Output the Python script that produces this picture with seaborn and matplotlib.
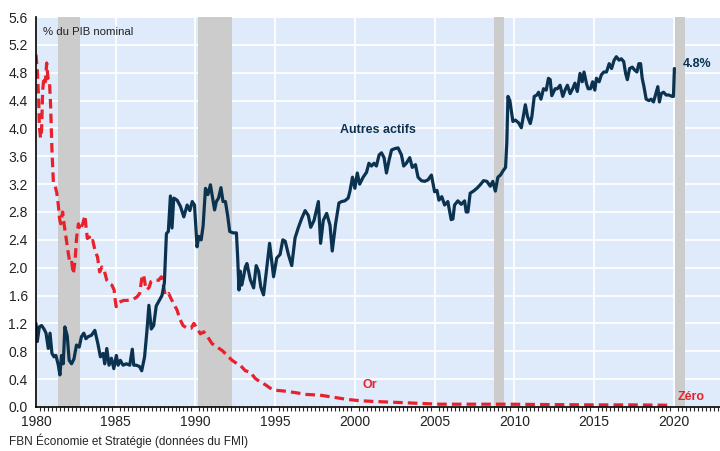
import numpy as np
import pandas as pd
import matplotlib
matplotlib.use('Agg')
import matplotlib.pyplot as plt
from matplotlib.ticker import MultipleLocator
import seaborn as sns

# Autres actifs (% du PIB nominal)
autres_years = [
    1980.00, 1980.08, 1980.21, 1980.35, 1980.50, 1980.63, 1980.77, 1980.88, 1981.00, 1981.13,
    1981.25, 1981.40, 1981.50, 1981.60, 1981.71, 1981.81, 1981.96, 1982.08, 1982.23, 1982.38,
    1982.54, 1982.71, 1982.85, 1983.00, 1983.13, 1983.27, 1983.48, 1983.69, 1983.88, 1984.04,
    1984.21, 1984.31, 1984.44, 1984.58, 1984.73, 1984.88, 1985.04, 1985.15, 1985.29, 1985.46,
    1985.67, 1985.88, 1986.04, 1986.13, 1986.29, 1986.50, 1986.63, 1986.81, 1986.96, 1987.08,
    1987.23, 1987.38, 1987.54, 1987.71, 1987.90, 1988.05, 1988.18, 1988.30, 1988.43, 1988.53,
    1988.64, 1988.85, 1989.06, 1989.27, 1989.48, 1989.65, 1989.80, 1989.94, 1990.10, 1990.21,
    1990.36, 1990.48, 1990.63, 1990.78, 1990.94, 1991.08, 1991.20, 1991.31, 1991.45, 1991.60,
    1991.73, 1991.88, 1992.02, 1992.15, 1992.36, 1992.57, 1992.65, 1992.73, 1992.81, 1992.90,
    1993.02, 1993.13, 1993.23, 1993.44, 1993.65, 1993.81, 1993.96, 1994.10, 1994.27, 1994.44,
    1994.65, 1994.90, 1995.10, 1995.31, 1995.48, 1995.63, 1995.83, 1996.04, 1996.25, 1996.46,
    1996.67, 1996.88, 1997.08, 1997.23, 1997.44, 1997.71, 1997.85, 1998.02, 1998.23, 1998.44,
    1998.58, 1998.79, 1999.00, 1999.17, 1999.37, 1999.58, 1999.69, 1999.85, 2000.00, 2000.15,
    2000.30, 2000.52, 2000.73, 2000.88, 2001.04, 2001.20, 2001.35, 2001.52, 2001.67, 2001.83,
    2001.98, 2002.15, 2002.30, 2002.50, 2002.71, 2002.92, 2003.06, 2003.23, 2003.44, 2003.60,
    2003.80, 2003.96, 2004.17, 2004.37, 2004.58, 2004.80, 2005.00, 2005.15, 2005.27, 2005.45,
    2005.63, 2005.83, 2006.04, 2006.15, 2006.25, 2006.46, 2006.67, 2006.88, 2006.98, 2007.09,
    2007.23, 2007.44, 2007.65, 2007.86, 2008.07, 2008.28, 2008.49, 2008.65, 2008.81, 2008.97,
    2009.13, 2009.32, 2009.45, 2009.53, 2009.60, 2009.72, 2009.80, 2009.91, 2010.06, 2010.27,
    2010.44, 2010.58, 2010.69, 2010.83, 2011.00, 2011.10, 2011.25, 2011.42, 2011.52, 2011.67,
    2011.83, 2012.00, 2012.14, 2012.25, 2012.35, 2012.56, 2012.70, 2012.87, 2013.04, 2013.18,
    2013.33, 2013.50, 2013.66, 2013.80, 2013.95, 2014.12, 2014.26, 2014.37, 2014.53, 2014.63,
    2014.78, 2014.91, 2015.05, 2015.15, 2015.32, 2015.46, 2015.61, 2015.78, 2015.95, 2016.10,
    2016.26, 2016.40, 2016.57, 2016.71, 2016.86, 2016.98, 2017.09, 2017.23, 2017.40, 2017.54,
    2017.69, 2017.81, 2017.92, 2018.02, 2018.13, 2018.27, 2018.44, 2018.58, 2018.73, 2018.85,
    2019.00, 2019.10, 2019.21, 2019.36, 2019.52, 2019.69, 2019.90, 2019.98, 2020.04,
]
autres_vals = [
    1.20, 0.94, 1.15, 1.17, 1.12, 1.06, 0.84, 1.06, 0.77, 0.72,
    0.74, 0.60, 0.46, 0.74, 0.62, 1.15, 1.02, 0.67, 0.62, 0.69,
    0.89, 0.86, 1.01, 1.06, 0.98, 1.01, 1.03, 1.10, 0.91, 0.72,
    0.77, 0.62, 0.84, 0.60, 0.70, 0.55, 0.74, 0.60, 0.67, 0.60,
    0.62, 0.60, 0.83, 0.60, 0.60, 0.58, 0.52, 0.72, 1.10, 1.46,
    1.12, 1.17, 1.45, 1.52, 1.60, 1.78, 2.49, 2.52, 3.03, 2.57,
    3.00, 2.97, 2.88, 2.73, 2.90, 2.82, 2.95, 2.90, 2.30, 2.45,
    2.40, 2.60, 3.14, 3.05, 3.19, 3.00, 2.83, 2.95, 3.00, 3.15,
    2.95, 2.95, 2.75, 2.52, 2.50, 2.50, 2.14, 1.68, 1.95, 1.75,
    1.87, 2.01, 2.06, 1.83, 1.71, 2.03, 1.95, 1.72, 1.61, 1.93,
    2.35, 1.87, 2.14, 2.19, 2.40, 2.38, 2.19, 2.03, 2.43, 2.58,
    2.71, 2.82, 2.75, 2.58, 2.68, 2.95, 2.35, 2.68, 2.78, 2.61,
    2.24, 2.63, 2.93, 2.95, 2.96, 3.00, 3.10, 3.30, 3.14, 3.36,
    3.20, 3.30, 3.37, 3.50, 3.46, 3.50, 3.46, 3.62, 3.65, 3.58,
    3.36, 3.55, 3.69, 3.71, 3.72, 3.62, 3.46, 3.50, 3.58, 3.44,
    3.48, 3.30, 3.25, 3.24, 3.26, 3.33, 3.09, 3.11, 2.97, 3.02,
    2.90, 2.95, 2.69, 2.70, 2.90, 2.96, 2.91, 2.96, 2.80, 2.80,
    3.07, 3.10, 3.14, 3.19, 3.25, 3.24, 3.17, 3.24, 3.10, 3.30,
    3.33, 3.40, 3.44, 3.80, 4.46, 4.40, 4.27, 4.10, 4.12, 4.08,
    4.01, 4.20, 4.34, 4.17, 4.07, 4.17, 4.46, 4.48, 4.52, 4.42,
    4.57, 4.55, 4.72, 4.70, 4.47, 4.57, 4.57, 4.62, 4.46, 4.55,
    4.62, 4.50, 4.57, 4.65, 4.53, 4.79, 4.67, 4.81, 4.64, 4.57,
    4.57, 4.67, 4.55, 4.72, 4.67, 4.77, 4.81, 4.81, 4.93, 4.86,
    4.98, 5.03, 4.98, 5.00, 4.96, 4.79, 4.70, 4.86, 4.88, 4.84,
    4.81, 4.93, 4.93, 4.72, 4.60, 4.42, 4.40, 4.42, 4.38, 4.48,
    4.60, 4.38, 4.50, 4.52, 4.48, 4.48, 4.46, 4.46, 4.86,
]

# Or (% du PIB nominal)
or_years = [
    1980.00, 1980.08, 1980.17, 1980.21, 1980.29, 1980.35, 1980.42, 1980.50, 1980.59, 1980.67,
    1980.75, 1980.84, 1980.92, 1981.00, 1981.09, 1981.19, 1981.30, 1981.40, 1981.48, 1981.55,
    1981.67, 1981.76, 1981.88, 1982.03, 1982.13, 1982.24, 1982.34, 1982.45, 1982.55, 1982.66,
    1982.76, 1982.93, 1983.07, 1983.14, 1983.22, 1983.35, 1983.43, 1983.56, 1983.70, 1983.86,
    1983.99, 1984.13, 1984.28, 1984.44, 1984.61, 1984.76, 1984.90, 1984.97, 1985.03, 1985.12,
    1985.28, 1985.49, 1985.70, 1985.91, 1986.12, 1986.33, 1986.50, 1986.65, 1986.75, 1986.86,
    1986.96, 1987.10, 1987.21, 1987.38, 1987.54, 1987.69, 1987.86, 1987.97, 1988.11, 1988.32,
    1988.46, 1988.64, 1988.85, 1989.01, 1989.22, 1989.48, 1989.73, 1989.90, 1990.10, 1990.31,
    1990.52, 1990.73, 1991.04, 1991.36, 1991.68, 1991.99, 1992.30, 1992.62, 1992.81, 1993.13,
    1993.44, 1993.75, 1994.06, 1994.38, 1994.69, 1995.00, 1995.52, 1996.15, 1996.98, 1997.81,
    1998.65, 1999.48, 2000.31, 2001.15, 2002.19, 2003.23, 2004.27, 2005.31, 2007.40, 2009.50,
    2012.00, 2015.00, 2017.50, 2019.85,
]
or_vals = [
    5.06, 4.84, 4.41, 4.02, 3.86, 3.98, 4.55, 4.74, 4.67, 4.94,
    4.72, 4.70, 4.31, 3.69, 3.23, 3.18, 3.08, 2.90, 2.70, 2.63,
    2.80, 2.63, 2.44, 2.20, 2.06, 2.08, 1.91, 2.10, 2.44, 2.63,
    2.54, 2.63, 2.75, 2.58, 2.42, 2.44, 2.37, 2.39, 2.25, 2.15,
    1.94, 2.01, 1.96, 1.82, 1.77, 1.75, 1.68, 1.53, 1.44, 1.49,
    1.51, 1.53, 1.53, 1.54, 1.55, 1.58, 1.63, 1.87, 1.90, 1.74,
    1.68, 1.72, 1.80, 1.82, 1.82, 1.82, 1.87, 1.77, 1.60, 1.63,
    1.56, 1.48, 1.39, 1.27, 1.17, 1.13, 1.13, 1.20, 1.13, 1.05,
    1.08, 1.02, 0.91, 0.86, 0.81, 0.74, 0.67, 0.62, 0.60, 0.52,
    0.50, 0.41, 0.36, 0.32, 0.27, 0.24, 0.23, 0.21, 0.18, 0.17,
    0.14, 0.11, 0.09, 0.08, 0.07, 0.06, 0.05, 0.04, 0.04, 0.04,
    0.035, 0.03, 0.03, 0.025,
]

# Canadian recessions (shaded)
recessions = [(1981.4, 1982.78), (1990.15, 1992.28), (2008.7, 2009.34), (2020.06, 2020.7)]

navy = '#0b3350'
red = '#e8212b'

sns.set_style('whitegrid', {'axes.facecolor': '#dfeafb', 'grid.color': 'white',
                            'axes.edgecolor': 'black'})
plt.rcParams['font.family'] = ['Liberation Sans', 'DejaVu Sans']

autres = pd.DataFrame({'year': autres_years, 'val': autres_vals})
gold = pd.DataFrame({'year': or_years, 'val': or_vals})

fig = plt.figure(figsize=(7.2, 4.51), dpi=100)
ax = fig.add_axes([0.05, 0.0976, 0.95, 0.8647])

for a, b in recessions:
    ax.axvspan(a, b, color='#cccccc', lw=0, zorder=1)

sns.lineplot(data=autres, x='year', y='val', ax=ax, color=navy, lw=2.3,
             estimator=None, sort=False, zorder=4)
sns.lineplot(data=gold, x='year', y='val', ax=ax, color=red, lw=2.3,
             estimator=None, sort=False, zorder=3, linestyle=(0, (3, 1.6)))

ax.set_xlim(1980, 2022.9)
ax.set_ylim(0, 5.6)
ax.xaxis.set_major_locator(MultipleLocator(5))
ax.xaxis.set_minor_locator(MultipleLocator(0.25))
ax.yaxis.set_major_locator(MultipleLocator(0.4))
ax.yaxis.set_major_formatter(matplotlib.ticker.FormatStrFormatter('%.1f'))
ax.grid(True, which='major', color='white', lw=1.3, zorder=2)
ax.set_axisbelow(True)
ax.set_xlabel('')
ax.set_ylabel('')

for s in ['top', 'right']:
    ax.spines[s].set_visible(False)
for s in ['left', 'bottom']:
    ax.spines[s].set_color('black')
    ax.spines[s].set_linewidth(1.2)
    ax.spines[s].set_zorder(6)

ax.tick_params(axis='both', which='major', labelsize=10, colors='black', length=4,
               width=1, direction='out', labelcolor='#222222')
ax.tick_params(axis='x', which='major', pad=1.5)
ax.tick_params(axis='x', which='minor', length=3, width=0.8, direction='out', bottom=True)
ax.tick_params(axis='y', which='major', pad=2)

ax.text(0.01, 0.975, '% du PIB nominal', transform=ax.transAxes, fontsize=8.2,
        va='top', ha='left', color='#222222')
ax.text(2001.45, 3.98, 'Autres actifs', fontsize=9, fontweight='bold', color=navy,
        ha='center', va='center')
ax.text(2020.55, 4.93, '4.8%', fontsize=9, fontweight='bold', color=navy,
        ha='left', va='center')
ax.text(2000.95, 0.31, 'Or', fontsize=9, fontweight='bold', color=red,
        ha='center', va='center')
ax.text(2021.1, 0.15, 'Zéro', fontsize=9, fontweight='bold', color=red,
        ha='center', va='center')

fig.text(0.012, 0.006, 'FBN Économie et Stratégie (données du FMI)', fontsize=8.5,
         color='#222222', ha='left', va='bottom')

fig.savefig('out.png', dpi=100)
